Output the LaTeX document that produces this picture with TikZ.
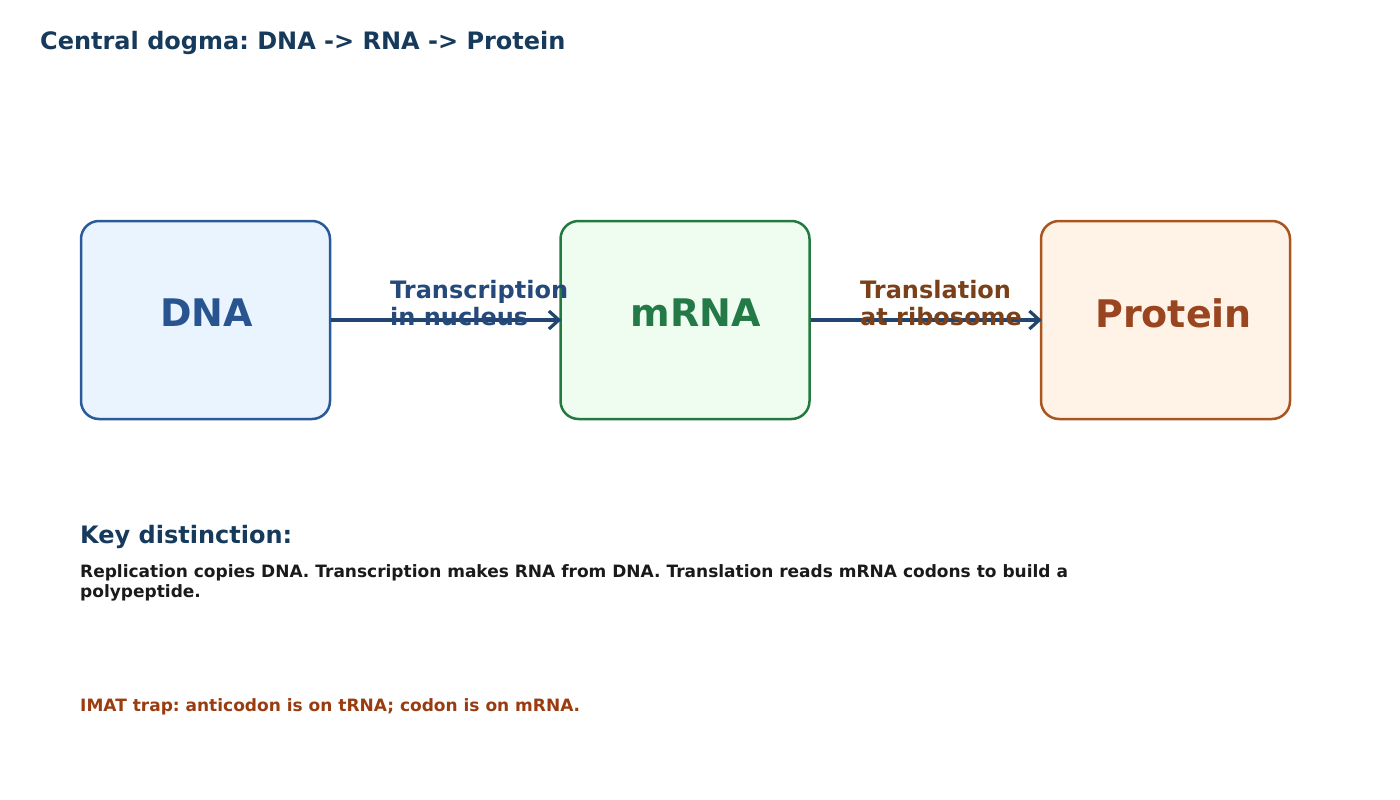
\documentclass[tikz,border=0pt]{standalone}
\usepackage{fontspec}
\setmainfont{DejaVu Sans}
\usetikzlibrary{arrows.meta}
\definecolor{titlecol}{HTML}{163A5C}
\definecolor{dnaline}{HTML}{2A5A9A}
\definecolor{dnafill}{HTML}{EAF4FE}
\definecolor{dnatext}{HTML}{28548F}
\definecolor{rnaline}{HTML}{237A3F}
\definecolor{rnafill}{HTML}{EFFDF0}
\definecolor{rnatext}{HTML}{237A47}
\definecolor{proline}{HTML}{A8551F}
\definecolor{profill}{HTML}{FFF2E6}
\definecolor{protext}{HTML}{994520}
\definecolor{arrowcol}{HTML}{1F4570}
\definecolor{trcol}{HTML}{24497A}
\definecolor{tlcol}{HTML}{7A4019}
\definecolor{bodycol}{HTML}{1A1A1A}
\definecolor{trapcol}{HTML}{9A3C10}
\tikzset{
  stagebox/.style={draw, line width=2.5pt, rounded corners=18pt, minimum width=249pt, minimum height=198pt, inner sep=0pt},
  boxlbl/.style={font=\fontsize{38}{44}\selectfont\bfseries, inner sep=0pt},
  flow/.style={draw=arrowcol, line width=3.2pt, -{Straight Barb[length=10pt,width=18pt,line width=3.2pt]}, shorten >=-2pt},
  edgelbl/.style={font=\fontsize{24}{27}\selectfont\bfseries\frenchspacing, align=left, anchor=base west, inner sep=0pt},
  heading/.style={font=\fontsize{24}{27}\selectfont\bfseries\frenchspacing, text=titlecol, anchor=base west, inner sep=0pt},
  body/.style={font=\fontsize{17}{20.5}\selectfont\bfseries\frenchspacing, align=left, anchor=base west, inner sep=0pt}
}
\begin{document}
\begin{tikzpicture}[x=1pt,y=-1pt]
\useasboundingbox (0,0) rectangle (1400,800);
\node[heading] (title) at (40,49) {Central dogma: DNA -> RNA -> Protein};
\node[stagebox, draw=dnaline, fill=dnafill, label={[boxlbl, text=dnatext, xshift=1pt, yshift=7pt]center:DNA}] (dna) at (205.5,320) {};
\node[stagebox, draw=rnaline, fill=rnafill, label={[boxlbl, text=rnatext, xshift=10.5pt, yshift=7pt]center:mRNA}] (mrna) at (685,320) {};
\node[stagebox, draw=proline, fill=profill, label={[boxlbl, text=protext, xshift=8pt, yshift=7pt]center:Protein}] (protein) at (1165.5,320) {};
\draw[flow] (dna.east) -- (mrna.west);
\draw[flow] (mrna.east) -- (protein.west);
\node[edgelbl, text=trcol] (trlbl) at (390,325) {Transcription\\in nucleus};
\node[edgelbl, text=tlcol] (tllbl) at (860,325) {Translation\\at ribosome};
\node[heading] (keyhead) at (80,543) {Key distinction:};
\node[body, text=bodycol] (keybody) at (80,597.5) {Replication copies DNA. Transcription makes RNA from DNA. Translation reads mRNA codons to build a\\polypeptide.};
\node[body, text=trapcol] (trap) at (80,711) {IMAT trap: anticodon is on tRNA; codon is on mRNA.};
\end{tikzpicture}
\end{document}
